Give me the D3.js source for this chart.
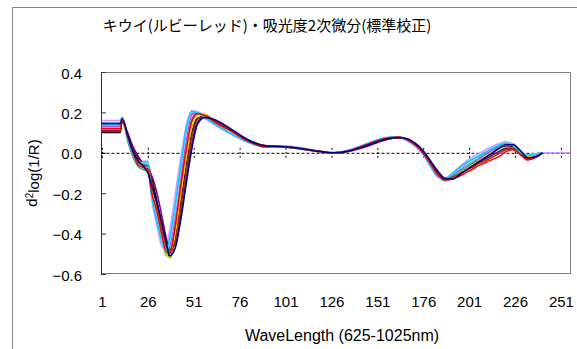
<!DOCTYPE html>
<html>
<head>
<meta charset="utf-8">
<script src="https://cdn.jsdelivr.net/npm/d3@7"></script>
<style>
  body { margin: 0; background: #fff; }
  svg { display: block; font-family: "Liberation Sans", Arial, sans-serif; }
  .axis text { font-size: 15px; fill: #000; }
</style>
</head>
<body>
<div id="chart"></div>
<script>
// chart texts
const chartTitle = "キウイ(ルビーレッド)・吸光度2次微分(標準校正)";
const xTitle = "WaveLength (625-1025nm)";

// category axis: 256 wavelength points, labelled every 25
const categoryCount = 256;
const xTickLabels = [1, 26, 51, 76, 101, 126, 151, 176, 201, 226, 251];
const yTickLabels = [-0.6, -0.4, -0.2, 0, 0.2, 0.4];

const wavePoints = [1, 11, 12, 15, 18, 21, 24, 26, 28, 31, 34, 36, 38, 41, 44, 47, 50, 53, 57, 62,
  70, 80, 90, 100, 110, 120, 127, 135, 145, 155, 162, 167, 172, 176, 180, 184, 188, 192, 197, 202,
  207, 212, 217, 221, 225, 229, 233, 237, 241];
// one sample keeps going at zero up to the end of the axis
const tailPoints = [248, 256];
const tailValues = [0, 0];

const s01 = [0.13,0.13,0.17,0.08,0.00,-0.05,-0.06,-0.07,-0.20,-0.31,-0.43,-0.50,-0.46,-0.32,-0.12,0.06,0.19,0.20,0.18,0.15,
  0.11,0.06,0.03,0.03,0.02,0.005,0.0,0.01,0.04,0.07,0.078,0.065,0.035,-0.005,-0.06,-0.11,-0.13,-0.11,-0.08,-0.05,
  -0.025,0.005,0.03,0.045,0.035,0.0,-0.015,-0.01,0.0];
const s02 = [0.10,0.10,0.16,0.09,0.02,-0.03,-0.05,-0.06,-0.12,-0.24,-0.38,-0.47,-0.52,-0.42,-0.24,-0.06,0.10,0.17,0.18,0.16,
  0.12,0.065,0.035,0.03,0.02,0.008,0.0,0.008,0.035,0.065,0.075,0.068,0.04,0.005,-0.045,-0.10,-0.135,-0.12,-0.09,-0.06,
  -0.035,-0.01,0.02,0.035,0.03,0.005,-0.02,-0.015,0.0];
const s03 = [0.16,0.16,0.18,0.07,-0.02,-0.06,-0.04,-0.05,-0.22,-0.36,-0.47,-0.46,-0.38,-0.20,-0.02,0.14,0.21,0.20,0.17,0.14,
  0.10,0.055,0.03,0.035,0.025,0.005,-0.002,0.012,0.045,0.075,0.08,0.06,0.03,-0.01,-0.07,-0.12,-0.125,-0.10,-0.06,-0.025,
  0.0,0.025,0.045,0.055,0.04,0.0,-0.01,-0.005,0.0];
const s04 = [0.12,0.12,0.17,0.06,-0.02,-0.07,-0.085,-0.09,-0.18,-0.28,-0.40,-0.48,-0.50,-0.38,-0.18,0.0,0.15,0.19,0.19,0.16,
  0.115,0.06,0.03,0.028,0.018,0.004,0.0,0.01,0.04,0.07,0.076,0.066,0.038,0.0,-0.05,-0.105,-0.13,-0.115,-0.085,-0.06,
  -0.04,-0.02,0.005,0.025,0.025,0.0,-0.03,-0.02,0.0];
const s05 = [0.14,0.14,0.175,0.085,0.01,-0.04,-0.045,-0.04,-0.16,-0.30,-0.44,-0.51,-0.48,-0.35,-0.15,0.03,0.17,0.20,0.185,0.155,
  0.11,0.058,0.032,0.032,0.022,0.006,0.001,0.01,0.04,0.072,0.079,0.068,0.036,-0.003,-0.058,-0.115,-0.14,-0.12,-0.085,-0.05,
  -0.02,0.01,0.035,0.05,0.045,0.01,-0.015,-0.01,0.0];
const s06 = [0.11,0.11,0.16,0.10,0.03,-0.02,-0.06,-0.08,-0.11,-0.20,-0.33,-0.42,-0.48,-0.45,-0.30,-0.12,0.05,0.15,0.18,0.165,
  0.125,0.068,0.036,0.03,0.018,0.006,-0.002,0.006,0.03,0.062,0.074,0.07,0.045,0.01,-0.04,-0.09,-0.125,-0.125,-0.095,-0.07,
  -0.045,-0.02,0.005,0.02,0.02,0.0,-0.035,-0.025,0.0];
const s07 = [0.15,0.15,0.18,0.08,0.0,-0.045,-0.05,-0.055,-0.19,-0.33,-0.45,-0.49,-0.44,-0.28,-0.08,0.10,0.20,0.205,0.18,0.145,
  0.105,0.058,0.03,0.03,0.02,0.004,0.0,0.012,0.042,0.074,0.08,0.066,0.034,-0.006,-0.062,-0.115,-0.13,-0.105,-0.07,-0.04,
  -0.01,0.015,0.04,0.05,0.04,0.005,-0.01,-0.005,0.0];
const s08 = [0.125,0.125,0.165,0.075,-0.005,-0.055,-0.07,-0.075,-0.17,-0.27,-0.41,-0.50,-0.52,-0.40,-0.20,-0.02,0.13,0.185,0.19,0.16,
  0.12,0.062,0.033,0.03,0.02,0.005,0.0,0.009,0.038,0.068,0.077,0.067,0.04,0.002,-0.05,-0.105,-0.135,-0.125,-0.095,-0.065,
  -0.035,-0.005,0.02,0.04,0.035,0.005,-0.02,-0.012,0.0];
const s09 = [0.105,0.105,0.155,0.09,0.01,-0.04,-0.06,-0.065,-0.14,-0.26,-0.39,-0.46,-0.50,-0.43,-0.27,-0.09,0.08,0.165,0.185,0.16,
  0.12,0.064,0.034,0.03,0.02,0.006,0.0,0.008,0.036,0.066,0.075,0.069,0.042,0.004,-0.048,-0.1,-0.13,-0.12,-0.1,-0.075,
  -0.05,-0.03,-0.005,0.015,0.02,-0.005,-0.03,-0.02,0.0];
const s10 = [0.135,0.135,0.17,0.07,-0.01,-0.05,-0.055,-0.06,-0.21,-0.34,-0.45,-0.48,-0.42,-0.25,-0.06,0.12,0.205,0.2,0.175,0.145,
  0.1,0.055,0.028,0.03,0.022,0.004,-0.001,0.011,0.043,0.073,0.078,0.064,0.032,-0.008,-0.065,-0.118,-0.128,-0.1,-0.065,-0.035,
  -0.012,0.012,0.036,0.046,0.036,0.002,-0.012,-0.008,0.0];
const s11 = [0.12,0.12,0.165,0.08,0.0,-0.06,-0.075,-0.08,-0.19,-0.29,-0.42,-0.49,-0.49,-0.36,-0.16,0.02,0.16,0.195,0.185,0.155,
  0.115,0.06,0.03,0.03,0.02,0.005,0.0,0.01,0.04,0.07,0.078,0.066,0.036,-0.002,-0.055,-0.11,-0.135,-0.13,-0.11,-0.085,
  -0.06,-0.04,-0.02,0.005,0.015,-0.01,-0.035,-0.02,0.0];
const s12 = [0.145,0.145,0.17,0.09,0.005,-0.045,-0.07,-0.1,-0.16,-0.25,-0.36,-0.44,-0.51,-0.47,-0.33,-0.15,0.02,0.14,0.175,0.165,
  0.125,0.066,0.034,0.03,0.02,0.006,0.0,0.008,0.036,0.066,0.076,0.07,0.044,0.008,-0.042,-0.095,-0.13,-0.13,-0.1,-0.07,
  -0.04,-0.01,0.02,0.04,0.04,0.01,-0.025,-0.02,0.0];

const seriesColors = ["#FF00FF", "#000000", "#CC99FF", "#339966", "#33CCCC", "#800080",
  "#99CCFF", "#FFCC00", "#993300", "#00CCFF", "#FF0000", "#000080"];

const samples = [s01, s02, s03, s04, s05, s06, s07, s08, s09, s10, s11, s12].map((values, i) => {
  const xs = i === 2 ? wavePoints.concat(tailPoints) : wavePoints;
  const vs = i === 2 ? values.concat(tailValues) : values;
  return { name: "sample " + (i + 1), color: seriesColors[i], values: xs.map((c, j) => ({ c: c, v: vs[j] })) };
});

const margin = { top: 72, right: 6, bottom: 75, left: 101 };
const W = 577, H = 349;
const width = W - margin.left - margin.right;
const height = H - margin.top - margin.bottom;

const svg = d3.select("#chart").append("svg")
  .attr("width", W)
  .attr("height", H);

// chart area border
svg.append("rect")
  .attr("x", 12.5).attr("y", 7.5)
  .attr("width", 620).attr("height", 420)
  .attr("fill", "#fff")
  .attr("stroke", "#868686");

svg.append("text")
  .attr("x", 267).attr("y", 31)
  .attr("text-anchor", "middle")
  .style("font-family", '"Noto Sans CJK JP", sans-serif')
  .style("font-size", "15px")
  .text(chartTitle);

const g = svg.append("g").attr("transform", `translate(${margin.left},${margin.top})`);
const xScale = d3.scaleLinear().domain([0.5, categoryCount + 0.5]).range([0, width]);
const yScale = d3.scaleLinear().domain([-0.6, 0.4]).range([height, 0]);

g.append("rect")
  .attr("x", 0.5).attr("y", 0.5)
  .attr("width", width - 1).attr("height", height - 1)
  .attr("fill", "none")
  .attr("stroke", "#808080");

g.append("g")
  .attr("class", "axis axis-y")
  .call(d3.axisLeft(yScale).tickValues(yTickLabels).tickSize(-5).tickPadding(19).tickFormat(d3.format(".1f")))
  .call(a => a.selectAll("line, path").attr("stroke", "#333"))
  .call(a => a.selectAll("text").attr("dy", "0.4em"));

// category axis crossing at y = 0, drawn dotted
const zeroAxis = g.append("g")
  .attr("class", "axis axis-zero")
  .attr("transform", `translate(0,${yScale(0)})`)
  .call(d3.axisBottom(xScale).tickValues(xTickLabels).tickFormat("").tickSizeOuter(0));
zeroAxis.select(".domain").attr("stroke-dasharray", "3,2");
zeroAxis.selectAll(".tick line").attr("y1", -5).attr("y2", 5).attr("stroke-dasharray", "2,2");

// labels sit at the bottom of the plot
g.append("g")
  .attr("class", "axis axis-x")
  .attr("transform", `translate(0,${height})`)
  .call(d3.axisBottom(xScale).tickValues(xTickLabels).tickSize(0).tickPadding(22))
  .call(a => a.select(".domain").remove());

const line = d3.line()
  .curve(d3.curveMonotoneX)
  .x(d => xScale(d.c))
  .y(d => yScale(d.v));

g.selectAll(".sample")
  .data(samples)
  .enter().append("path")
  .attr("class", "sample")
  .attr("d", d => line(d.values))
  .attr("fill", "none")
  .attr("stroke", d => d.color)
  .attr("stroke-width", 1.5)
  .attr("stroke-linejoin", "round");

const yTitle = svg.append("text")
  .attr("transform", "translate(37,173) rotate(-90)")
  .attr("text-anchor", "middle")
  .style("font-size", "15px");
yTitle.append("tspan").text("d");
yTitle.append("tspan").attr("dy", "-0.45em").style("font-size", "10px").text("2");
yTitle.append("tspan").attr("dy", "0.45em").text("log(1/R)");

svg.append("text")
  .attr("x", 342).attr("y", 341)
  .attr("text-anchor", "middle")
  .style("font-size", "16px")
  .text(xTitle);
</script>
</body>
</html>
